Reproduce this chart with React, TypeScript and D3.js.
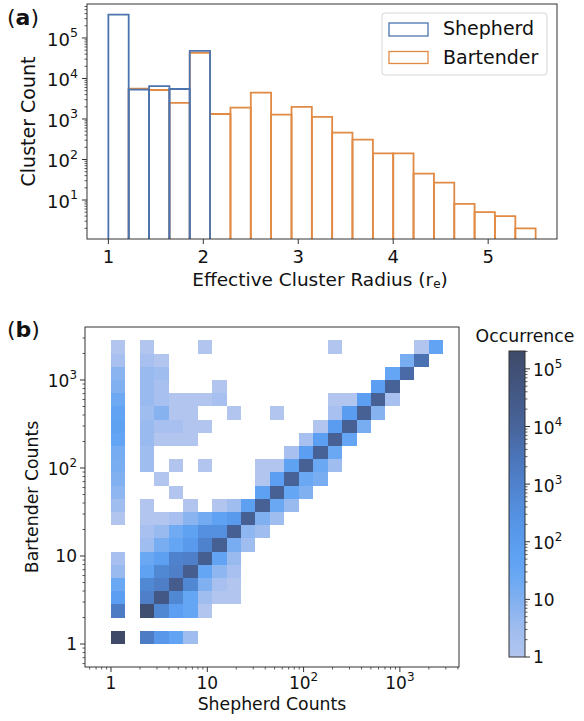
import React from 'react';
import * as d3 from 'd3';

// ---------- Panel (a): histogram of effective cluster radius ----------
const radiusEdges = [1.0, 1.214, 1.429, 1.643, 1.857, 2.071, 2.286, 2.5, 2.714, 2.929, 3.143, 3.357, 3.571, 3.786, 4.0, 4.214, 4.429, 4.643, 4.857, 5.071, 5.286, 5.5];
const shepherdRadiusCounts = [376000, 5300, 6500, 5500, 48000];
const bartenderRadiusCounts = [0, 5600, 5200, 2500, 43000, 1330, 1900, 4500, 1280, 2000, 1130, 460, 310, 142, 142, 45, 27, 8, 5, 4, 2];
const radiusTicks = [1, 2, 3, 4, 5];
const clusterCountTicks = [10, 100, 1000, 10000, 100000];

// ---------- Panel (b): 2D histogram Shepherd vs Bartender counts ----------
const countBinLog = [0, 0.15, 0.3, 0.45, 0.6, 0.75, 0.9, 1.05, 1.2, 1.35, 1.5, 1.65, 1.8, 1.95, 2.1, 2.25, 2.4, 2.55, 2.7, 2.85, 3.0, 3.15, 3.3, 3.45];
// [shepherd bin, bartender bin, occurrence]
const heatCells: [number, number, number][] = [
  [0, 22, 1], [2, 22, 1], [6, 22, 1], [15, 22, 1], [21, 22, 1], [22, 22, 40],
  [0, 21, 2], [2, 21, 2], [3, 21, 1], [20, 21, 14], [21, 21, 3981],
  [0, 20, 7], [2, 20, 4], [3, 20, 3], [19, 20, 32], [20, 20, 6310],
  [0, 19, 10], [2, 19, 4], [3, 19, 2], [7, 19, 1], [18, 19, 79], [19, 19, 12590],
  [0, 18, 22], [2, 18, 4], [3, 18, 2], [4, 18, 1], [5, 18, 1], [6, 18, 1], [7, 18, 2], [15, 18, 1], [16, 18, 1], [17, 18, 79], [18, 18, 14130], [19, 18, 2],
  [0, 17, 40], [2, 17, 3], [3, 17, 8], [4, 17, 1], [5, 17, 1], [8, 17, 1], [11, 17, 1], [15, 17, 2], [16, 17, 100], [17, 17, 14130], [18, 17, 8],
  [0, 16, 50], [2, 16, 4], [3, 16, 2], [4, 16, 2], [5, 16, 1], [6, 16, 1], [14, 16, 1], [15, 16, 100], [16, 16, 14130], [17, 16, 14],
  [0, 15, 35], [2, 15, 4], [3, 15, 1], [4, 15, 1], [5, 15, 1], [13, 15, 2], [14, 15, 79], [15, 15, 14130], [16, 15, 32],
  [0, 14, 16], [2, 14, 3], [12, 14, 2], [13, 14, 79], [14, 14, 12590], [15, 14, 25],
  [0, 13, 14], [2, 13, 3], [4, 13, 1], [6, 13, 1], [10, 13, 1], [11, 13, 1], [12, 13, 50], [13, 13, 14130], [14, 13, 25], [15, 13, 3],
  [0, 12, 10], [3, 12, 1], [10, 12, 1], [11, 12, 79], [12, 12, 12590], [13, 12, 25], [14, 12, 14],
  [0, 11, 6], [4, 11, 1], [10, 11, 63], [11, 11, 14130], [12, 11, 32], [13, 11, 10],
  [0, 10, 3], [2, 10, 1], [5, 10, 1], [7, 10, 1], [8, 10, 3], [9, 10, 71], [10, 10, 14130], [11, 10, 25], [12, 10, 4],
  [0, 9, 1], [2, 9, 1], [3, 9, 1], [4, 9, 2], [5, 9, 7], [6, 9, 18], [7, 9, 56], [8, 9, 126], [9, 9, 15850], [10, 9, 10], [11, 9, 3],
  [2, 8, 2], [3, 8, 4], [4, 8, 20], [5, 8, 50], [6, 8, 316], [7, 8, 316], [8, 8, 15850], [9, 8, 6], [10, 8, 3],
  [2, 7, 3], [3, 7, 14], [4, 7, 32], [5, 7, 126], [6, 7, 1000], [7, 7, 15850], [8, 7, 14], [9, 7, 3],
  [0, 6, 2], [2, 6, 25], [3, 6, 71], [4, 6, 1000], [5, 6, 1259], [6, 6, 17780], [7, 6, 40], [8, 6, 4],
  [0, 5, 4], [2, 5, 50], [3, 5, 631], [4, 5, 1259], [5, 5, 19950], [6, 5, 32], [7, 5, 6], [8, 5, 2],
  [0, 4, 25], [2, 4, 631], [3, 4, 1413], [4, 4, 25120], [5, 4, 631], [6, 4, 10], [7, 4, 2], [8, 4, 1],
  [0, 3, 79], [2, 3, 1259], [3, 3, 39810], [4, 3, 631], [5, 3, 32], [6, 3, 3], [7, 3, 1], [8, 3, 1],
  [0, 2, 1585], [2, 2, 125900], [3, 2, 631], [4, 2, 79], [5, 2, 32], [6, 2, 1],
  [0, 0, 204000], [2, 0, 1585], [3, 0, 158], [4, 0, 40], [5, 0, 3],
];
const heatAxisTicks = [1, 10, 100, 1000];
const colorbarTicks = [1, 10, 100, 1000, 10000, 100000];
const cmapLogStops = [0, 0.5, 1.0, 1.5, 2.0, 2.5, 3.0, 3.5, 4.0, 4.5, 5.31];
const cmapColors = ['#b2c5ee', '#9fbdef', '#80b0f0', '#64a6f4', '#5a9cf0', '#5590e0', '#4f82cc', '#4b74b8', '#48649a', '#445a88', '#3e4a68'];

const FONT = "'DejaVu Sans', sans-serif";
const SHEP = '#4c74b0';
const BART = '#e08a45';
const SPINE = '#333';

function minorTicks(lo: number, hi: number) {
  const out: number[] = [];
  for (let k = -2; k <= 6; k++) {
    for (let m = 2; m <= 9; m++) {
      const v = m * Math.pow(10, k);
      if (v >= lo && v <= hi) out.push(v);
    }
  }
  return out;
}

function PowLabel({ v, x, y, anchor, plainSmall, size }: { v: number; x: number; y: number; anchor: string; plainSmall: boolean; size: number }) {
  const e = Math.round(Math.log10(v));
  if (plainSmall && e <= 1) {
    return (
      <text x={x} y={y + size * 0.37} textAnchor={anchor} fontSize={size} fontFamily={FONT} fill="#111">
        {e === 0 ? '1' : '10'}
      </text>
    );
  }
  return (
    <text x={x} y={y + size * 0.44} textAnchor={anchor} fontSize={size} fontFamily={FONT} fill="#111">
      10<tspan dy={-size * 0.47} fontSize={size * 0.7}>{e}</tspan>
    </text>
  );
}

export default function App() {
  // ---- panel a ----
  const A = { l: 87, r: 557, t: 4, b: 239 };
  const xA = d3.scaleLinear().domain([0.775, 5.725]).range([A.l, A.r]);
  const yA = d3.scaleLog().domain([1.09, 6.9e5]).range([A.b, A.t]);

  const barPath = (k: number, c: number) => {
    const x0 = xA(radiusEdges[k]);
    const x1 = xA(radiusEdges[k + 1]);
    const y = yA(c);
    return `M${x0},${A.b + 2}V${y}H${x1}V${A.b + 2}`;
  };

  // ---- panel b ----
  const B = { l: 85, r: 459, t: 327, b: 667 };
  const xB = d3.scaleLog().domain([Math.pow(10, -0.27), Math.pow(10, 3.614)]).range([B.l, B.r]);
  const yB = d3.scaleLog().domain([Math.pow(10, -0.261), Math.pow(10, 3.602)]).range([B.b, B.t]);
  const color = d3.scaleLinear<string>().domain(cmapLogStops).range(cmapColors).interpolate(d3.interpolateRgb);

  const maxOcc = d3.max(heatCells, (d) => d[2]) as number;
  const CB = { l: 509, r: 525, t: 351, b: 657 };
  const yCB = d3.scaleLog().domain([1, maxOcc]).range([CB.b, CB.t]);
  const gradStops = d3.range(0, 1.0001, 0.05).map((t) => ({ t, c: color(t * Math.log10(maxOcc)) }));

  const yMinorA = minorTicks(yA.domain()[0], yA.domain()[1]);
  const xMinorB = minorTicks(xB.domain()[0], xB.domain()[1]);
  const yMinorB = minorTicks(yB.domain()[0], yB.domain()[1]);
  const cbMinor = minorTicks(1, maxOcc);

  return (
    <svg width={584} height={721} style={{ position: 'absolute', left: 0, top: 0, background: '#fff' }} fontFamily={FONT}>
      <defs>
        <clipPath id="clipA">
          <rect x={A.l} y={A.t} width={A.r - A.l} height={A.b - A.t} />
        </clipPath>
        <linearGradient id="cbGrad" x1="0" y1="1" x2="0" y2="0">
          {gradStops.map((s, i) => (
            <stop key={i} offset={s.t} stopColor={s.c} />
          ))}
        </linearGradient>
      </defs>

      {/* ================= Panel a ================= */}
      <g clipPath="url(#clipA)">
        {bartenderRadiusCounts.map((c, k) =>
          c > 0 ? <path key={'b' + k} d={barPath(k, c)} fill="none" stroke={BART} strokeWidth={1.8} /> : null
        )}
        {shepherdRadiusCounts.map((c, k) =>
          c > 0 ? <path key={'s' + k} d={barPath(k, c)} fill="none" stroke={SHEP} strokeWidth={1.8} /> : null
        )}
      </g>
      <rect x={A.l} y={A.t} width={A.r - A.l} height={A.b - A.t} fill="none" stroke={SPINE} strokeWidth={1} />
      {radiusTicks.map((t) => (
        <g key={'xa' + t}>
          <line x1={xA(t)} x2={xA(t)} y1={A.b} y2={A.b + 5} stroke={SPINE} />
          <text x={xA(t)} y={263} textAnchor="middle" fontSize={18} fill="#111">{t}</text>
        </g>
      ))}
      {clusterCountTicks.map((t) => (
        <g key={'ya' + t}>
          <line x1={A.l - 5} x2={A.l} y1={yA(t)} y2={yA(t)} stroke={SPINE} />
          <PowLabel v={t} x={78} y={yA(t)} anchor="end" plainSmall={false} size={18} />
        </g>
      ))}
      {yMinorA.map((t) => (
        <line key={'yam' + t} x1={A.l - 2.5} x2={A.l} y1={yA(t)} y2={yA(t)} stroke={SPINE} strokeWidth={0.8} />
      ))}
      <text x={320} y={286} textAnchor="middle" fontSize={18.5} fill="#111">
        Effective Cluster Radius (r<tspan fontSize={12} dy={2}>e</tspan><tspan dy={-2}>)</tspan>
      </text>
      <text transform={`translate(35,${(A.t + A.b) / 2}) rotate(-90)`} textAnchor="middle" fontSize={19} fill="#111">
        Cluster Count
      </text>
      {/* legend */}
      <rect x={382} y={13} width={165} height={62} rx={3} fill="#fff" fillOpacity={0.85} stroke="#d6d6d6" strokeWidth={1} />
      <rect x={389} y={23} width={39} height={13} fill="none" stroke={SHEP} strokeWidth={1.3} />
      <text x={443} y={34.5} fontSize={19} fill="#111">Shepherd</text>
      <rect x={389} y={51.5} width={39} height={12} fill="none" stroke={BART} strokeWidth={1.3} />
      <text x={443} y={63.5} fontSize={19} fill="#111">Bartender</text>
      <text x={7} y={25} fontSize={22} fill="#111">
        (<tspan fontWeight="bold">a</tspan>)
      </text>

      {/* ================= Panel b ================= */}
      <g shapeRendering="crispEdges">
        {heatCells.map(([i, j, c], n) => {
          const x0 = xB(Math.pow(10, countBinLog[i]));
          const x1 = xB(Math.pow(10, countBinLog[i + 1] ?? countBinLog[i] + 0.15));
          const y0 = yB(Math.pow(10, countBinLog[j + 1] ?? countBinLog[j] + 0.15));
          const y1 = yB(Math.pow(10, countBinLog[j]));
          return <rect key={n} x={x0} y={y0} width={x1 - x0} height={y1 - y0} fill={color(Math.log10(c))} />;
        })}
      </g>
      <rect x={B.l} y={B.t} width={B.r - B.l} height={B.b - B.t} fill="none" stroke={SPINE} strokeWidth={1} />
      {heatAxisTicks.map((t) => (
        <g key={'xb' + t}>
          <line x1={xB(t)} x2={xB(t)} y1={B.b} y2={B.b + 5} stroke={SPINE} />
          {t >= 100 ? (
            <text x={xB(t)} y={689} textAnchor="middle" fontSize={17} fill="#111">
              10<tspan dy={-8} fontSize={12}>{Math.round(Math.log10(t))}</tspan>
            </text>
          ) : (
            <text x={xB(t)} y={689} textAnchor="middle" fontSize={17} fill="#111">{t === 1 ? '1' : '10'}</text>
          )}
        </g>
      ))}
      {xMinorB.map((t) => (
        <line key={'xbm' + t} x1={xB(t)} x2={xB(t)} y1={B.b} y2={B.b + 2.5} stroke={SPINE} strokeWidth={0.8} />
      ))}
      {heatAxisTicks.map((t) => (
        <g key={'yb' + t}>
          <line x1={B.l - 5} x2={B.l} y1={yB(t)} y2={yB(t)} stroke={SPINE} />
          <PowLabel v={t} x={77} y={yB(t)} anchor="end" plainSmall={true} size={17} />
        </g>
      ))}
      {yMinorB.map((t) => (
        <line key={'ybm' + t} x1={B.l - 2.5} x2={B.l} y1={yB(t)} y2={yB(t)} stroke={SPINE} strokeWidth={0.8} />
      ))}
      <text x={(B.l + B.r) / 2} y={710} textAnchor="middle" fontSize={17.3} fill="#111">Shepherd Counts</text>
      <text transform={`translate(38,${(B.t + B.b) / 2}) rotate(-90)`} textAnchor="middle" fontSize={17.3} fill="#111">
        Bartender Counts
      </text>
      <text x={7} y={337} fontSize={22} fill="#111">
        (<tspan fontWeight="bold">b</tspan>)
      </text>

      {/* colorbar */}
      <rect x={CB.l} y={CB.t} width={CB.r - CB.l} height={CB.b - CB.t} fill="url(#cbGrad)" stroke={SPINE} strokeWidth={1} />
      {colorbarTicks.map((t) => (
        <g key={'cb' + t}>
          <line x1={CB.r} x2={CB.r + 5} y1={yCB(t)} y2={yCB(t)} stroke={SPINE} />
          <PowLabel v={t} x={533} y={yCB(t)} anchor="start" plainSmall={true} size={17} />
        </g>
      ))}
      {cbMinor.map((t) => (
        <line key={'cbm' + t} x1={CB.r} x2={CB.r + 2.5} y1={yCB(t)} y2={yCB(t)} stroke={SPINE} strokeWidth={0.8} />
      ))}
      <text x={525} y={342} textAnchor="middle" fontSize={17.3} fill="#111">Occurrence</text>
    </svg>
  );
}
